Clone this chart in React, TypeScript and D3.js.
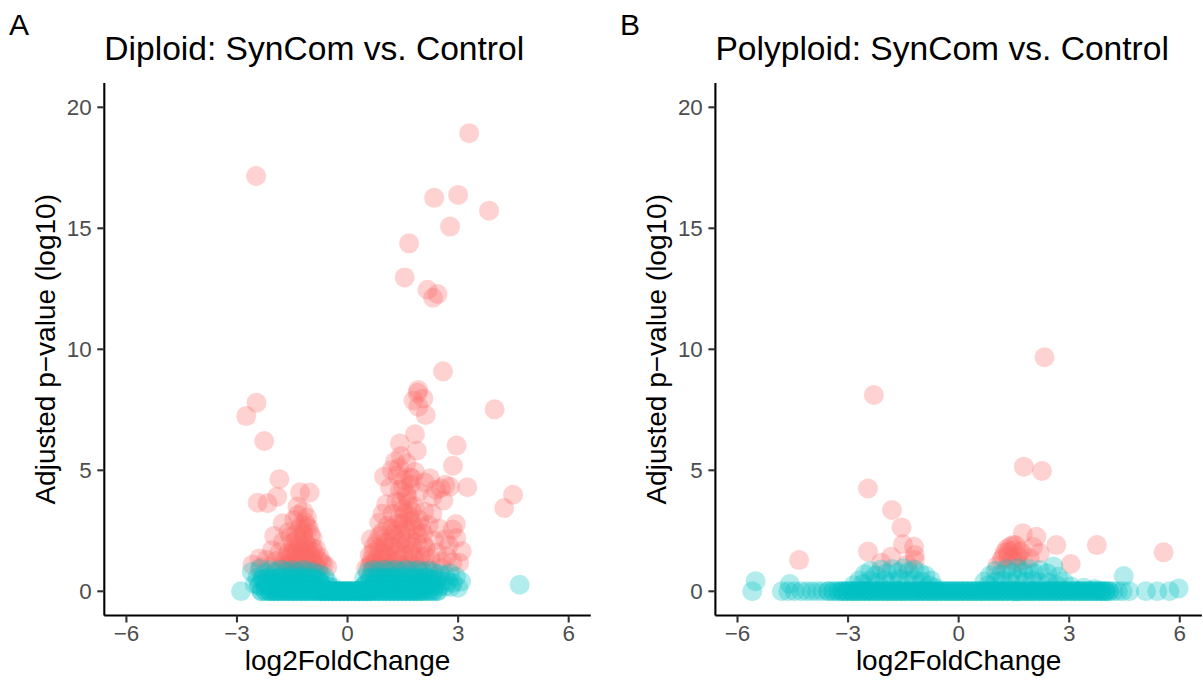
import React from 'react';
import * as d3 from 'd3';

// ---- tick labels / texts ----
const xTicks = [-6, -3, 0, 3, 6];
const yTicks = [0, 5, 10, 15, 20];
const panelLabels = ['A', 'B'];
const panelTitles = ['Diploid: SynCom vs. Control', 'Polyploid: SynCom vs. Control'];
const xTitle = 'log2FoldChange';
const yTitle = 'Adjusted p\u2212value (log10)';

// ---- Diploid: significant genes [log2FC, -log10 padj] ----
const diploidSig: [number, number][] = [
  [3.30, 18.93], [-2.48, 17.16], [2.35, 16.26], [3.00, 16.38], [3.84, 15.73], [2.78, 15.07],
  [1.67, 14.38], [1.55, 12.97], [2.17, 12.46], [2.44, 12.28], [2.32, 12.13], [2.59, 9.09],
  [1.92, 8.32], [1.90, 8.20], [2.06, 7.97], [1.79, 7.88], [1.92, 7.63], [2.12, 7.28],
  [-2.75, 7.24], [-2.47, 7.79], [-2.26, 6.21], [3.99, 7.52], [1.83, 6.49], [1.42, 6.11],
  [1.88, 5.81], [2.96, 6.02], [1.45, 5.59], [1.29, 5.36], [2.86, 5.19], [0.99, 4.74],
  [1.20, 5.01], [1.83, 4.94], [1.76, 4.67], [2.24, 4.67], [3.25, 4.30], [2.78, 4.32],
  [2.53, 4.26], [-1.85, 4.63], [-2.44, 3.66], [-2.17, 3.64], [-1.91, 3.91], [-1.29, 4.09],
  [-1.03, 4.08], [4.49, 3.99], [4.25, 3.44],
  [-1.36, 3.50], [-1.20, 3.30], [-1.10, 3.05], [-1.45, 2.95], [-1.25, 2.75], [-1.05, 2.60],
  [-1.76, 2.81], [-1.99, 2.29], [-1.60, 2.45], [-1.40, 2.35], [-1.20, 2.30], [-0.95, 2.20],
  [-1.75, 2.05], [-1.50, 2.00], [-1.30, 1.95], [-1.10, 1.90], [-0.85, 1.75], [-2.05, 1.70],
  [-1.85, 1.60], [-1.60, 1.60], [-1.40, 1.55], [-1.20, 1.55], [-1.00, 1.50], [-0.75, 1.40],
  [-2.39, 1.36], [-2.20, 1.30], [-1.95, 1.25], [-1.70, 1.25], [-1.50, 1.20], [-1.30, 1.20],
  [-1.10, 1.15], [-0.90, 1.15], [-0.65, 1.10], [-2.58, 1.10], [-2.35, 1.00], [-2.10, 1.00],
  [-1.85, 0.95], [-1.60, 0.95], [-1.40, 0.90], [-1.20, 0.90], [-1.00, 0.90], [-0.80, 0.90],
  [-0.55, 1.00], [-1.55, 1.40], [-1.35, 1.75], [-1.15, 2.05], [-1.30, 1.40], [-1.15, 1.30],
  [-1.05, 1.70],
  [-1.45, 1.05], [-1.25, 1.05], [-1.05, 1.05], [-0.85, 1.05], [-1.35, 1.30], [-1.15, 1.45],
  [-0.95, 1.35], [-1.45, 1.70], [-1.25, 1.65], [-0.95, 1.80], [-1.40, 2.15], [-1.20, 2.45],
  [-1.00, 2.35], [-1.30, 2.60], [-1.15, 2.85], [-1.35, 3.15], [-1.65, 1.45], [-1.75, 1.05],
  [-1.55, 2.25], [-0.80, 1.30], [-0.70, 1.20], [-1.10, 1.60], [-1.30, 1.10], [-1.50, 1.55],
  [-0.90, 1.60], [-1.20, 1.85], [-1.40, 1.25], [-1.00, 1.25], [-1.60, 1.10], [-1.10, 2.70],
  [0.86, 2.84], [0.63, 2.15], [2.94, 2.78], [3.03, 1.18], [2.95, 2.20], [2.85, 2.55],
  [2.75, 1.90], [3.10, 1.65],
  [0.50, 0.95], [0.60, 1.50], [0.65, 1.15], [0.72, 1.85], [0.78, 1.30], [0.85, 0.95],
  [0.88, 2.30], [0.92, 1.60], [1.00, 1.15], [1.02, 2.00], [1.08, 2.70], [1.12, 1.40],
  [1.15, 0.95], [1.18, 1.85], [1.22, 3.20], [1.25, 2.35], [1.28, 1.20], [1.32, 3.70],
  [1.35, 1.60], [1.38, 2.80], [1.42, 4.20], [1.45, 2.10], [1.48, 1.05], [1.50, 3.40],
  [1.52, 4.60], [1.55, 1.75], [1.58, 2.55], [1.62, 3.90], [1.65, 1.30], [1.68, 3.10],
  [1.70, 2.15], [1.72, 4.40], [1.75, 1.55], [1.78, 2.70], [1.82, 3.50], [1.85, 1.05],
  [1.88, 2.00], [1.92, 4.10], [1.95, 2.95], [2.00, 1.45], [2.05, 2.40], [2.08, 3.30],
  [2.12, 1.80], [2.15, 0.95], [2.20, 2.75], [2.25, 1.35], [2.30, 3.20], [2.35, 2.10],
  [2.42, 1.60], [2.48, 2.60], [2.55, 1.20], [2.60, 3.75], [2.65, 2.15], [2.70, 1.45],
  [2.40, 4.20], [1.40, 5.10], [1.60, 5.30], [1.35, 4.80], [0.95, 3.20], [1.05, 3.60],
  [1.15, 4.30], [2.10, 4.50], [2.30, 3.90], [2.65, 4.40], [2.85, 1.20], [2.55, 0.95],
  [0.70, 0.90], [1.40, 0.85], [1.95, 0.90], [2.30, 0.85],
  [0.60, 1.05], [0.75, 1.10], [0.90, 1.25], [1.05, 1.45], [1.20, 1.10], [1.35, 1.30],
  [1.50, 1.50], [1.65, 1.10], [1.80, 1.40], [1.95, 1.20], [2.10, 1.45], [0.70, 1.60],
  [0.85, 1.75], [1.00, 1.85], [1.15, 2.15], [1.30, 2.50], [1.45, 2.40], [1.60, 2.00],
  [1.75, 1.85], [1.90, 2.30], [2.05, 1.95], [0.80, 2.05], [0.95, 2.45], [1.20, 2.60],
  [1.40, 3.00], [1.55, 3.20], [1.70, 2.90], [1.85, 2.55], [1.50, 2.80], [1.65, 3.60],
  [1.45, 3.70], [1.75, 3.30], [0.65, 1.30], [1.10, 1.00], [1.55, 0.95], [1.00, 1.60],
  [1.25, 1.80], [1.40, 2.00], [2.00, 2.65], [1.60, 4.00], [1.50, 4.30], [1.70, 4.70],
];

// ---- Diploid: non-significant genes [log2FC, -log10 padj, genes at that spot] ----
const diploidNs: [number, number, number][] = [
  [-2.89, 0.00, 1], [4.67, 0.27, 1],
  // left arm
  [-2.60, 0.80, 1], [-2.45, 0.55, 1], [-2.52, 0.30, 1], [-2.38, 0.92, 1], [-2.25, 0.75, 1],
  [-2.10, 0.88, 1], [-1.95, 0.80, 1], [-1.80, 0.90, 1], [-1.65, 0.82, 1], [-1.50, 0.88, 1],
  [-1.35, 0.80, 1], [-1.20, 0.90, 1], [-1.05, 0.82, 1], [-0.90, 0.78, 1], [-0.75, 0.70, 1],
  [-0.62, 0.60, 1], [-2.30, 0.50, 2], [-2.15, 0.55, 2], [-2.00, 0.50, 2], [-1.85, 0.58, 2],
  [-1.70, 0.52, 2], [-1.55, 0.58, 2], [-1.40, 0.52, 2], [-1.25, 0.58, 2], [-1.10, 0.52, 2],
  [-0.95, 0.55, 2], [-0.80, 0.48, 2], [-0.55, 0.40, 1], [-2.40, 0.25, 2], [-2.22, 0.30, 2],
  [-2.05, 0.25, 2], [-1.90, 0.32, 2], [-1.75, 0.26, 2], [-1.60, 0.30, 2], [-1.45, 0.25, 2],
  [-1.30, 0.32, 2], [-1.15, 0.26, 2], [-1.00, 0.30, 2], [-0.85, 0.25, 2], [-0.70, 0.28, 2],
  [-0.50, 0.20, 1], [-0.40, 0.15, 1],
  // right arm
  [0.45, 0.55, 1], [0.55, 0.80, 1], [0.70, 0.88, 1], [0.85, 0.82, 1], [1.00, 0.90, 1],
  [1.15, 0.84, 1], [1.30, 0.90, 1], [1.45, 0.82, 1], [1.60, 0.90, 1], [1.75, 0.84, 1],
  [1.90, 0.88, 1], [2.05, 0.80, 1], [2.20, 0.86, 1], [2.35, 0.78, 1], [2.50, 0.72, 1],
  [2.65, 0.65, 1], [2.78, 0.75, 1], [2.94, 0.60, 1], [3.08, 0.40, 1], [0.50, 0.30, 2],
  [0.62, 0.55, 2], [0.78, 0.52, 2], [0.92, 0.58, 2], [1.08, 0.52, 2], [1.22, 0.58, 2],
  [1.38, 0.52, 2], [1.52, 0.58, 2], [1.68, 0.52, 2], [1.82, 0.58, 2], [1.98, 0.52, 2],
  [2.12, 0.56, 2], [2.28, 0.50, 2], [2.42, 0.48, 1], [2.58, 0.42, 1], [2.72, 0.40, 1],
  [2.86, 0.35, 1], [0.40, 0.15, 1], [0.70, 0.28, 2], [0.85, 0.25, 2], [1.00, 0.30, 2],
  [1.15, 0.26, 2], [1.30, 0.30, 2], [1.45, 0.25, 2], [1.60, 0.30, 2], [1.75, 0.26, 2],
  [1.90, 0.30, 2], [2.05, 0.25, 2], [2.20, 0.28, 2], [2.35, 0.24, 2], [2.50, 0.22, 1],
  [2.65, 0.20, 1], [2.80, 0.18, 1], [3.00, 0.15, 1],
  // padj ~ 1 band
  [-2.34, 0, 2], [-2.22, 0, 2], [-2.11, 0, 3], [-2.00, 0, 3], [-1.90, 0, 3], [-1.79, 0, 3],
  [-1.68, 0, 3], [-1.58, 0, 3], [-1.47, 0, 3], [-1.37, 0, 3], [-1.26, 0, 3], [-1.15, 0, 3],
  [-1.05, 0, 3], [-0.94, 0, 3], [-0.84, 0, 3], [-0.73, 0, 4], [-0.62, 0, 4], [-0.52, 0, 4],
  [-0.41, 0, 4], [-0.31, 0, 4], [-0.20, 0, 4], [-0.10, 0, 4], [0.00, 0, 4], [0.10, 0, 4],
  [0.21, 0, 4], [0.31, 0, 4], [0.42, 0, 4], [0.52, 0, 4], [0.63, 0, 4], [0.74, 0, 3],
  [0.84, 0, 3], [0.95, 0, 3], [1.05, 0, 3], [1.16, 0, 3], [1.27, 0, 3], [1.37, 0, 3],
  [1.48, 0, 3], [1.58, 0, 3], [1.69, 0, 3], [1.80, 0, 3], [1.90, 0, 3], [2.01, 0, 3],
  [2.12, 0, 2], [2.22, 0, 2], [2.33, 0, 2], [2.44, 0, 2],
];

// ---- Polyploid: significant genes ----
const polyploidSig: [number, number][] = [
  [2.33, 9.67], [-2.30, 8.11], [1.77, 5.15], [2.26, 4.97], [-2.46, 4.25], [-1.81, 3.36],
  [-1.55, 2.64], [-1.51, 1.94], [-1.21, 1.84], [-2.46, 1.64], [-4.33, 1.29], [-2.10, 1.18],
  [-1.83, 1.43], [-1.19, 1.29], [-1.19, 1.50], [1.74, 2.40], [2.11, 2.25], [2.65, 1.91],
  [3.75, 1.91], [5.56, 1.61], [3.04, 1.13], [1.47, 1.91], [1.34, 1.62], [1.66, 1.62],
  [2.02, 1.84], [1.93, 1.37], [1.16, 1.29], [1.57, 1.17], [2.20, 1.58], [1.40, 1.85],
  [1.30, 1.75], [1.20, 1.40], [1.60, 1.45], [1.75, 1.25], [-1.40, 1.10], [1.05, 1.05],
  [1.35, 1.45], [1.50, 1.70], [1.25, 1.60], [1.45, 1.30], [1.70, 1.65], [1.55, 1.90],
];

// ---- Polyploid: non-significant genes ----
const polyploidNs: [number, number, number][] = [
  [-5.60, 0.00, 1], [-5.51, 0.42, 1], [-4.58, 0.30, 1], [4.48, 0.63, 1], [4.63, 0.00, 1],
  [5.08, 0.00, 1], [5.39, 0.00, 1], [5.72, 0.00, 1], [5.97, 0.12, 1],
  // left hump
  [-2.70, 0.45, 1], [-2.55, 0.70, 1], [-2.40, 0.85, 1], [-2.25, 0.65, 1], [-2.10, 0.90, 1],
  [-1.95, 0.75, 1], [-1.80, 0.92, 1], [-1.65, 0.78, 1], [-1.50, 0.95, 1], [-1.35, 0.80, 1],
  [-1.20, 0.90, 1], [-1.05, 0.75, 1], [-0.90, 0.65, 1], [-0.75, 0.45, 1], [-2.85, 0.25, 1],
  [-2.60, 0.30, 1], [-2.40, 0.45, 1], [-2.20, 0.35, 1], [-2.00, 0.45, 1], [-1.80, 0.40, 1],
  [-1.60, 0.50, 1], [-1.40, 0.40, 1], [-1.20, 0.48, 1], [-1.00, 0.38, 1], [-0.80, 0.25, 1],
  [-0.65, 0.15, 1],
  // right hump
  [0.70, 0.40, 1], [0.85, 0.65, 1], [1.00, 0.85, 1], [1.15, 0.70, 1], [1.30, 0.92, 1],
  [1.45, 0.75, 1], [1.60, 0.95, 1], [1.75, 0.80, 1], [1.90, 0.92, 1], [2.05, 0.75, 1],
  [2.20, 0.88, 1], [2.40, 0.75, 1], [2.57, 1.02, 1], [2.70, 0.60, 1], [2.85, 0.40, 1],
  [0.80, 0.25, 1], [1.00, 0.40, 1], [1.20, 0.45, 1], [1.40, 0.38, 1], [1.60, 0.48, 1],
  [1.80, 0.40, 1], [2.00, 0.45, 1], [2.20, 0.38, 1], [2.45, 0.35, 1], [2.65, 0.25, 1],
  [3.05, 0.20, 1], [3.40, 0.15, 1], [3.70, 0.10, 1],
  // sparse band ends
  [-4.80, 0, 1], [-4.62, 0, 1], [-4.45, 0, 1], [-4.27, 0, 1], [-4.12, 0, 1], [-3.98, 0, 1],
  [-3.84, 0, 1], [-3.70, 0, 1], [-3.54, 0, 2], [-3.40, 0, 2], [-3.27, 0, 2],
  [4.08, 0, 2], [4.20, 0, 1], [4.32, 0, 1], [4.45, 0, 1],
  // padj ~ 1 band
  [-3.15, 0, 3], [-3.03, 0, 3], [-2.90, 0, 3], [-2.78, 0, 3], [-2.66, 0, 3], [-2.54, 0, 3],
  [-2.42, 0, 3], [-2.30, 0, 3], [-2.18, 0, 3], [-2.05, 0, 3], [-1.93, 0, 3], [-1.81, 0, 3],
  [-1.69, 0, 3], [-1.57, 0, 3], [-1.45, 0, 3], [-1.32, 0, 3], [-1.20, 0, 3], [-1.08, 0, 3],
  [-0.96, 0, 3], [-0.84, 0, 3], [-0.72, 0, 3], [-0.60, 0, 3], [-0.48, 0, 3], [-0.36, 0, 3],
  [-0.24, 0, 3], [-0.12, 0, 3], [0.00, 0, 3], [0.12, 0, 3], [0.24, 0, 3], [0.36, 0, 3],
  [0.48, 0, 3], [0.60, 0, 3], [0.72, 0, 3], [0.84, 0, 3], [0.96, 0, 3], [1.08, 0, 3],
  [1.20, 0, 3], [1.32, 0, 3], [1.45, 0, 3], [1.57, 0, 3], [1.69, 0, 3], [1.81, 0, 3],
  [1.93, 0, 3], [2.05, 0, 3], [2.18, 0, 3], [2.30, 0, 3], [2.42, 0, 3], [2.54, 0, 3],
  [2.66, 0, 3], [2.78, 0, 3], [2.90, 0, 3], [3.03, 0, 3], [3.15, 0, 3], [3.27, 0, 3],
  [3.39, 0, 3], [3.51, 0, 3], [3.63, 0, 3], [3.75, 0, 3], [3.87, 0, 3], [3.98, 0, 3],
];

const panelSig = [diploidSig, polyploidSig];
const panelNs = [diploidNs, polyploidNs];

const RED = '#FC6B68';
const TEAL = '#00BFC4';
const FONT = '"Liberation Sans", Arial, Helvetica, sans-serif';

const W = 1203;
const H = 687;
const panelLefts = [104.3, 715.4];
const panelW = 486.5;
const panelTop = 83.1;
const panelBottom = 615.5;
const R = 10;
const ALPHA = 0.3;

function Panel({ idx }: { idx: number }) {
  const pl = panelLefts[idx];
  const x = d3.scaleLinear().domain([-6.6, 6.6]).range([pl, pl + panelW]);
  const y = d3.scaleLinear().domain([-1, 21]).range([panelBottom, panelTop]);
  const sig = panelSig[idx];
  const ns = panelNs[idx];
  const nsExpanded: [number, number][] = [];
  ns.forEach(([a, b, n]) => {
    for (let k = 0; k < n; k++) nsExpanded.push([a, b]);
  });
  const offset = idx === 0 ? 0 : 611;
  return (
    <g>
      <text x={9 + offset} y={35} fontSize={30} fontFamily={FONT} fill="#000">
        {panelLabels[idx]}
      </text>
      <text x={pl} y={60} fontSize={33.6} fontFamily={FONT} fill="#000">
        {panelTitles[idx]}
      </text>
      <g>
        {sig.map(([a, b], i) => (
          <circle key={'s' + i} cx={x(a)} cy={y(b)} r={R} fill={RED} fillOpacity={ALPHA} />
        ))}
        {nsExpanded.map(([a, b], i) => (
          <circle key={'n' + i} cx={x(a)} cy={y(b)} r={R} fill={TEAL} fillOpacity={ALPHA} />
        ))}
      </g>
      {/* axes */}
      <line x1={pl} x2={pl + panelW} y1={panelBottom} y2={panelBottom} stroke="#000" strokeWidth={2.1} />
      <line x1={pl} x2={pl} y1={panelTop} y2={panelBottom} stroke="#000" strokeWidth={2.1} />
      {xTicks.map((t) => (
        <g key={'xt' + t}>
          <line x1={x(t)} x2={x(t)} y1={panelBottom} y2={panelBottom + 7} stroke="#333" strokeWidth={2.1} />
          <text x={x(t)} y={641} textAnchor="middle" fontSize={22.4} fontFamily={FONT} fill="#4D4D4D">
            {t < 0 ? '\u2212' + Math.abs(t) : String(t)}
          </text>
        </g>
      ))}
      {yTicks.map((t) => (
        <g key={'yt' + t}>
          <line x1={pl - 7} x2={pl} y1={y(t)} y2={y(t)} stroke="#333" strokeWidth={2.1} />
          <text x={pl - 12.6} y={y(t) + 8} textAnchor="end" fontSize={22.4} fontFamily={FONT} fill="#4D4D4D">
            {String(t)}
          </text>
        </g>
      ))}
      <text x={pl + panelW / 2} y={670} textAnchor="middle" fontSize={28} fontFamily={FONT} fill="#000">
        {xTitle}
      </text>
      <text
        transform={`translate(${pl - 49},${(panelTop + panelBottom) / 2}) rotate(-90)`}
        textAnchor="middle"
        fontSize={28}
        fontFamily={FONT}
        fill="#000"
      >
        {yTitle}
      </text>
    </g>
  );
}

export default function App() {
  return (
    <svg
      width={W}
      height={H}
      viewBox={`0 0 ${W} ${H}`}
      style={{ position: 'absolute', left: 0, top: 0, background: '#fff' }}
    >
      <rect x={0} y={0} width={W} height={H} fill="#fff" />
      <Panel idx={0} />
      <Panel idx={1} />
    </svg>
  );
}
